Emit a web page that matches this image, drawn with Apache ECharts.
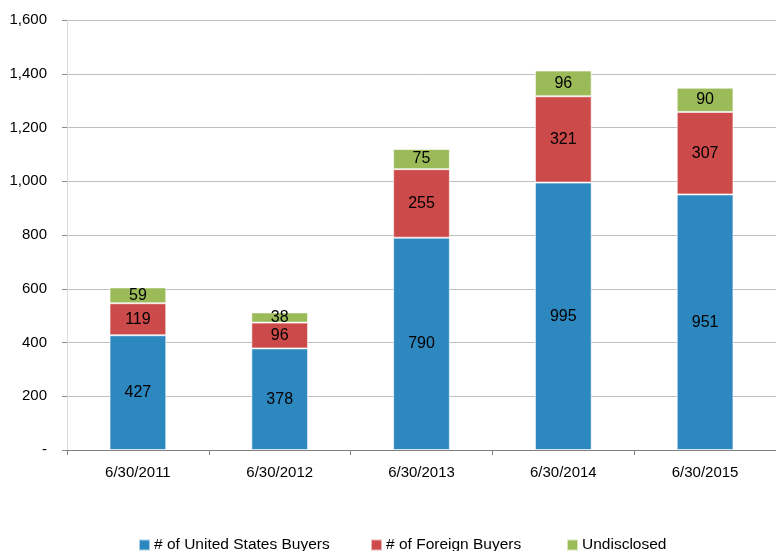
<!DOCTYPE html>
<html>
<head>
<meta charset="utf-8">
<script src="https://cdn.jsdelivr.net/npm/echarts@6/dist/echarts.min.js"></script>
<style>
  html, body { margin: 0; padding: 0; background: #fff; }
  #chart { width: 776px; height: 551px; }
</style>
</head>
<body>
<div id="chart"></div>
<script>
// Buyer counts by period end
const categories = ['6/30/2011', '6/30/2012', '6/30/2013', '6/30/2014', '6/30/2015'];
const usBuyers = [427, 378, 790, 995, 951];
const foreignBuyers = [119, 96, 255, 321, 307];
const undisclosed = [59, 38, 75, 96, 90];
const yTicks = [0, 200, 400, 600, 800, 1000, 1200, 1400, 1600];

const seriesNames = ['# of United States Buyers', '# of Foreign Buyers', 'Undisclosed'];
const seriesColors = ['#2e88c0', '#cc4a4a', '#9bbb59'];

const FONT = '"Liberation Sans", Arial, sans-serif';

function barSeries(name, data, color) {
  return {
    name: name,
    type: 'bar',
    stack: 'total',
    data: data,
    barWidth: '40%',
    itemStyle: { color: color, borderColor: 'rgba(255,255,255,0.6)', borderWidth: 1 },
    label: {
      show: true,
      position: 'inside',
      color: '#000',
      fontFamily: FONT,
      fontSize: 16
    }
  };
}

// one legend per entry so each sits at its own spot along the bottom
const legendLefts = [138, 370, 566];
const legends = seriesNames.map(function (name, i) {
  return {
    bottom: -2,
    left: legendLefts[i],
    padding: 0,
    itemWidth: 11,
    itemHeight: 11,
    itemGap: 0,
    icon: 'rect',
    textStyle: { fontFamily: FONT, fontSize: 15.5, color: '#000', padding: [0, 0, 0, -1] },
    data: [name]
  };
});

const chart = echarts.init(document.getElementById('chart'));
chart.setOption({
  animation: false,
  grid: { left: 67, top: 20, width: 712, height: 430 },
  legend: legends,
  xAxis: {
    type: 'category',
    data: categories,
    axisLine: { lineStyle: { color: '#808080', width: 1 } },
    axisTick: { show: true, alignWithLabel: false, length: 5, lineStyle: { color: '#808080' } },
    axisLabel: { fontFamily: FONT, fontSize: 15, color: '#000', margin: 15 }
  },
  yAxis: {
    type: 'value',
    min: yTicks[0],
    max: yTicks[yTicks.length - 1],
    interval: 200,
    axisLine: { show: true, lineStyle: { color: '#d9d9d9' } },
    axisTick: { show: true, length: 5, lineStyle: { color: '#8c8c8c' } },
    splitLine: { lineStyle: { color: '#bfbfbf', width: 1 } },
    axisLabel: {
      fontFamily: FONT,
      fontSize: 15,
      color: '#000',
      margin: 20,
      formatter: function (v) {
        return v === 0 ? '-' : v.toLocaleString('en-US');
      }
    }
  },
  series: seriesNames.map(function (name, i) {
    return barSeries(name, [usBuyers, foreignBuyers, undisclosed][i], seriesColors[i]);
  })
});
</script>
</body>
</html>
